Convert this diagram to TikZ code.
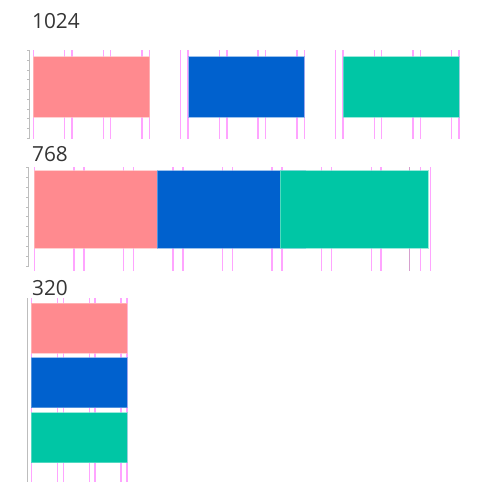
\documentclass[tikz,border=0pt]{standalone}
\usepackage{fontspec}
\setmainfont{Open Sans}
\usepackage{tikz}
\usetikzlibrary{positioning}
\definecolor{cellpink}{HTML}{FF8A8F}
\definecolor{cellblue}{HTML}{0061CE}
\definecolor{cellgreen}{HTML}{00C6A5}
\definecolor{guidecol}{HTML}{FF7DFF}
\definecolor{axiscol}{HTML}{BDBDBD}
\definecolor{labelcol}{HTML}{353535}
\tikzset{
    guide/.style={draw=guidecol, line width=1.4pt, draw opacity=0.7},
    oddguide/.style={draw={rgb,255:red,214;green,160;blue,206}, line width=1.4pt},
    axisline/.style={draw=axiscol, line width=1pt},
    axistick/.style={draw=axiscol, line width=0.8pt},
    cell/.style={fill=#1, draw=#1!55!white, draw opacity=0.7, line width=1pt},
    width label/.style={anchor=base west, inner sep=0pt, text=labelcol, font=\fontsize{20.8}{24}\selectfont}
}

\begin{document}
\begin{tikzpicture}[x=1pt, y=-1pt]
\useasboundingbox (0,0) rectangle (490,499);

% width 1024
\node[width label] (w1024) at (32,28) {1024};
\foreach \k in {0,...,11}
    \draw[guide] ({33.3+38.7*\k},50) -- ({33.3+38.7*\k},139.3);
\foreach \k in {0,...,10}
    \draw[guide] ({64.6+38.7*\k},50) -- ({64.6+38.7*\k},139.3);
\draw[axisline] (29.3,50) -- (29.3,139.3);
\foreach \t in {0,...,9}
    \draw[axistick] (27,{50.5+9.75*\t}) -- (29.3,{50.5+9.75*\t});
\path[cell=cellpink] (33.3,56.7) rectangle (149.7,117.3);
\path[cell=cellblue] (188.7,56.7) rectangle (304.3,117.3);
\path[cell=cellgreen] (343,56.7) rectangle (459,117.3);

% width 768
\node[width label] (w768) at (32,161) {768};
\foreach \k in {0,...,8}
    \draw[guide] ({34.3+49.55*\k},167.3) -- ({34.3+49.55*\k},270.7);
\foreach \k in {0,...,7}
    \draw[guide] ({73.9+49.55*\k},167.3) -- ({73.9+49.55*\k},270.7);
\draw[oddguide] (409.7,167.3) -- (409.7,270.7);
\draw[axisline] (28.3,167.3) -- (28.3,266.7);
\foreach \t in {0,...,10}
    \draw[axistick] (26,{167.7+9.83*\t}) -- (28.3,{167.7+9.83*\t});
\path[cell=cellpink] (34.3,170.7) rectangle (157.3,248.3);
\path[cell=cellblue] (157.3,170.7) rectangle (305.7,248.3);
\path[cell=cellgreen] (280,170.7) rectangle (428.3,248.3);

% width 320
\node[width label] (w320) at (32,295) {320};
\foreach \k in {0,...,3}
    \draw[guide] ({31.3+31.9*\k},298.3) -- ({31.3+31.9*\k},482.3);
\foreach \k in {0,...,2}
    \draw[guide] ({57.3+31.9*\k},298.3) -- ({57.3+31.9*\k},482.3);
\draw[axisline] (27.3,298.3) -- (27.3,482.3);
\path[cell=cellpink] (31,303.3) rectangle (127,353.3);
\path[cell=cellblue] (31,357.7) rectangle (127,407.7);
\path[cell=cellgreen] (31,412.7) rectangle (127,462.7);
\end{tikzpicture}
\end{document}
